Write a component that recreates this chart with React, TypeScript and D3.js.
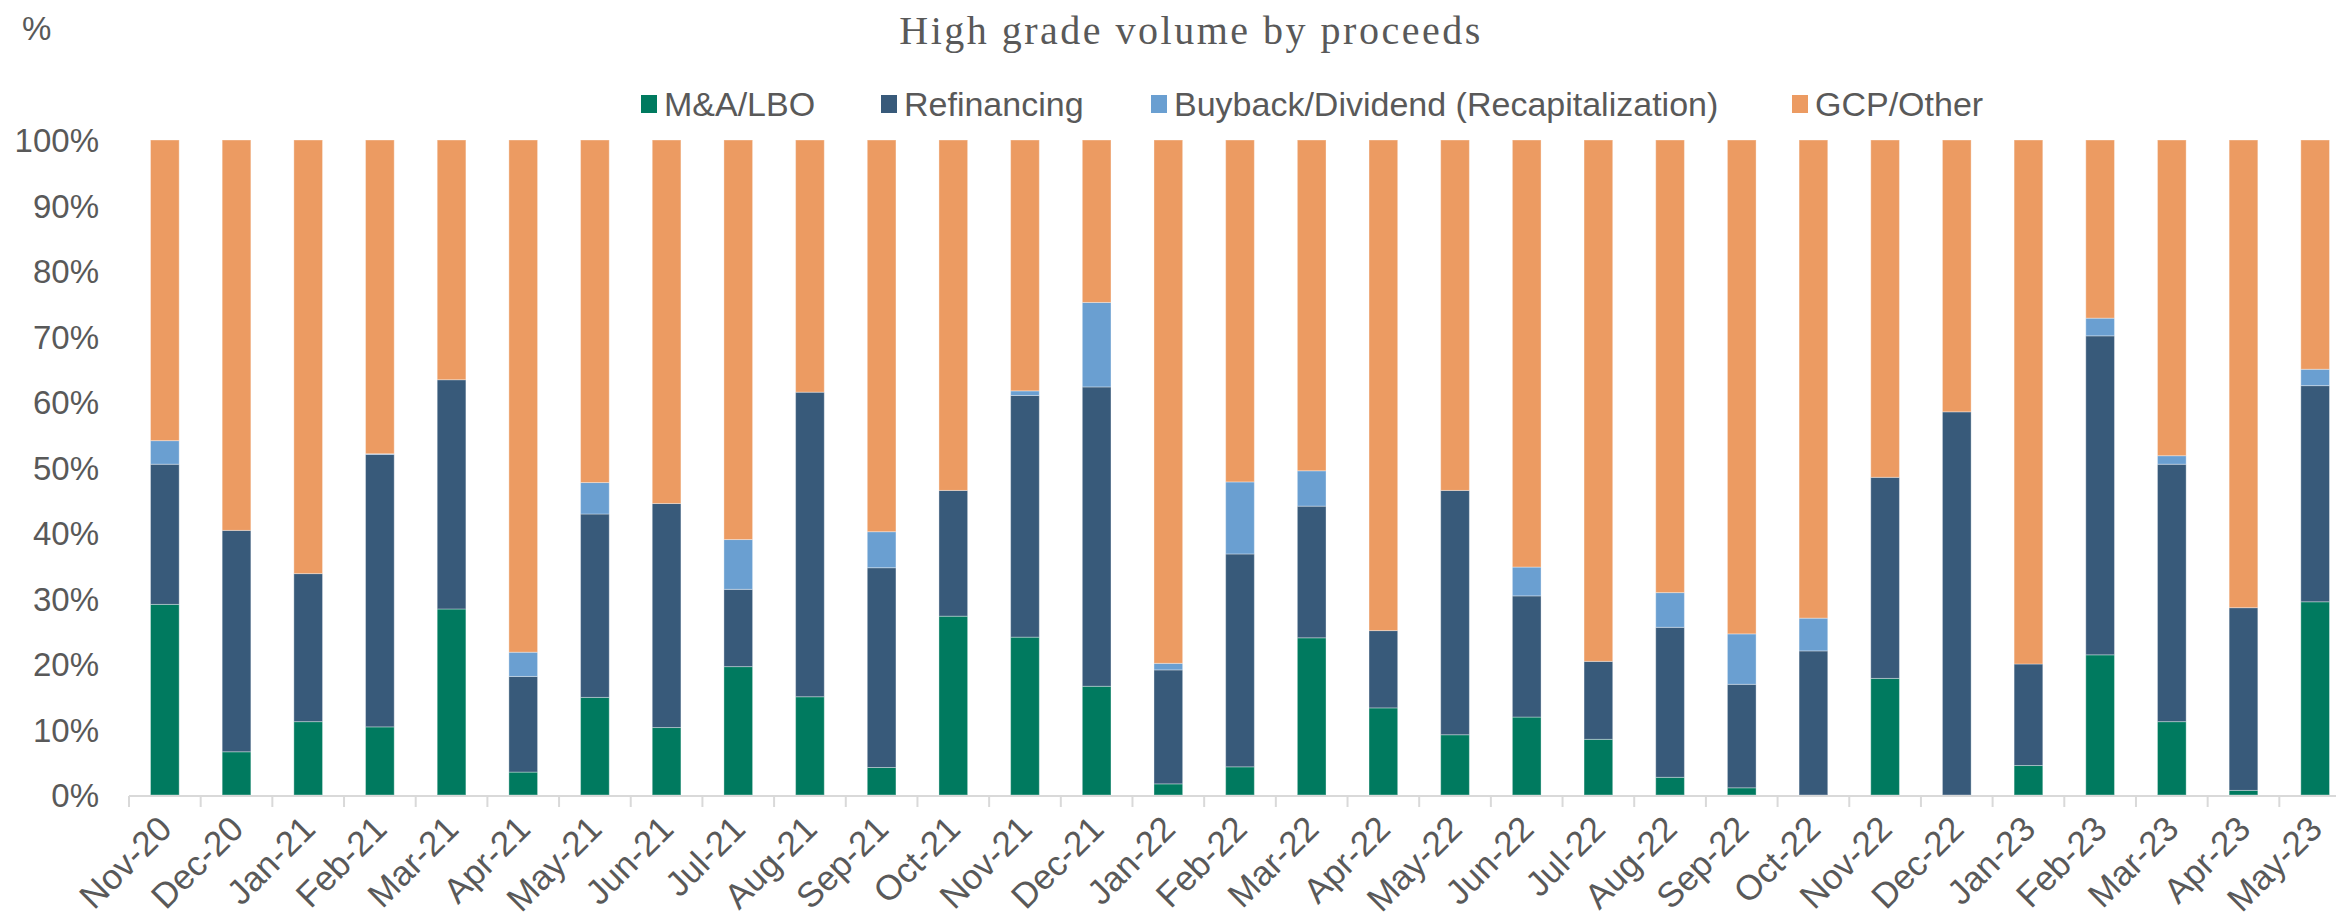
import React from 'react';
import * as d3 from 'd3';

const months = [
  'Nov-20', 'Dec-20', 'Jan-21', 'Feb-21', 'Mar-21', 'Apr-21', 'May-21', 'Jun-21',
  'Jul-21', 'Aug-21', 'Sep-21', 'Oct-21', 'Nov-21', 'Dec-21', 'Jan-22', 'Feb-22',
  'Mar-22', 'Apr-22', 'May-22', 'Jun-22', 'Jul-22', 'Aug-22', 'Sep-22', 'Oct-22',
  'Nov-22', 'Dec-22', 'Jan-23', 'Feb-23', 'Mar-23', 'Apr-23', 'May-23'
];

// % of high grade volume, per month
const maLbo = [
  29.1, 6.6, 11.2, 10.4, 28.4, 3.5, 14.9, 10.3, 19.6, 15.0, 4.2, 27.3, 24.1, 16.6, 1.7, 4.3,
  24.0, 13.3, 9.2, 11.9, 8.5, 2.7, 1.1, 0, 17.8, 0, 4.5, 21.4, 11.2, 0.7, 29.5
];
const refinancing = [
  21.4, 33.8, 22.6, 41.6, 35.0, 14.6, 28.0, 34.2, 11.8, 46.5, 30.5, 19.2, 36.9, 45.7, 17.4, 32.5,
  20.1, 11.8, 37.3, 18.5, 11.9, 22.9, 15.8, 22.0, 30.7, 58.5, 15.5, 48.7, 39.3, 27.9, 33.0
];
const buyback = [
  3.6, 0, 0, 0.1, 0, 3.7, 4.8, 0, 7.6, 0, 5.5, 0, 0.7, 12.9, 1.0, 11.0,
  5.4, 0, 0, 4.4, 0, 5.3, 7.7, 5.0, 0, 0, 0, 2.7, 1.3, 0, 2.5
];
const gcpOther = [
  45.9, 59.6, 66.2, 47.9, 36.6, 78.2, 52.3, 55.5, 61.0, 38.5, 59.8, 53.5, 38.3, 24.8, 79.9, 52.2,
  50.5, 74.9, 53.5, 65.2, 79.6, 69.1, 75.4, 73.0, 51.5, 41.5, 80.0, 27.2, 48.2, 71.4, 35.0
];

const seriesNames = ['M&A/LBO', 'Refinancing', 'Buyback/Dividend (Recapitalization)', 'GCP/Other'];
const seriesKeys = ['ma', 'refi', 'buy', 'gcp'];
const colors = ['#007a5f', '#385a7a', '#6a9fd1', '#ec9b62'];
const yTicks = [0, 10, 20, 30, 40, 50, 60, 70, 80, 90, 100];

const W = 2336;
const H = 920;
const textColor = '#595959';
const sans = '"Liberation Sans", Arial, sans-serif';

const App: React.FC = () => {
  const rows = months.map((m, i) => ({
    month: m,
    ma: maLbo[i],
    refi: refinancing[i],
    buy: buyback[i],
    gcp: gcpOther[i]
  }));

  const stack = d3.stack<any>().keys(seriesKeys);
  const layers = stack(rows);

  const x = d3.scaleBand<string>()
    .domain(months)
    .range([129, 2351])
    .paddingInner(0.6)
    .paddingOuter(0.3);
  const step = x.step();
  const y = d3.scaleLinear().domain([0, 100]).range([795, 140]);

  const legendX = [641, 881, 1151, 1792];

  return (
    <div style={{ position: 'absolute', left: 0, top: 0, width: W, height: H, overflow: 'hidden', background: '#fff' }}>
      <svg width={W} height={H} style={{ display: 'block' }}>
        <text x={22} y={40} fontFamily={sans} fontSize={33} fill={textColor}>%</text>
        <text x={1191} y={44} textAnchor="middle" fontFamily='"Liberation Serif", "Times New Roman", serif'
          fontSize={40} letterSpacing={2.5} fill={textColor}>High grade volume by proceeds</text>

        {seriesNames.map((name, i) => (
          <g key={name} transform={`translate(${legendX[i]},104)`}>
            <rect x={0} y={-9} width={16} height={18} fill={colors[i]} />
            <text x={23} y={12} fontFamily={sans} fontSize={34} fill={textColor}>{name}</text>
          </g>
        ))}

        {yTicks.map((t) => (
          <text key={t} x={99} y={y(t) + 12} textAnchor="end" fontFamily={sans} fontSize={33} fill={textColor}>
            {t}%
          </text>
        ))}

        {layers.map((layer, li) => (
          <g key={seriesKeys[li]} fill={colors[li]}>
            {layer.map((d, i) => {
              const h = y(d[0]) - y(d[1]);
              if (h <= 0) return null;
              return (
                <rect key={i} x={x(months[i])} y={y(d[1])} width={x.bandwidth()} height={h}
                  stroke="#ffffff" strokeOpacity={0.35} strokeWidth={1} />
              );
            })}
          </g>
        ))}

        <line x1={129} x2={2351} y1={796} y2={796} stroke="#d9d9d9" strokeWidth={2} />
        {d3.range(months.length + 1).map((i) => (
          <line key={i} x1={129 + i * step} x2={129 + i * step} y1={796} y2={807} stroke="#d9d9d9" strokeWidth={2} />
        ))}

        {months.map((m) => {
          const cx = (x(m) as number) + x.bandwidth() / 2 + 9;
          const cy = 831;
          return (
            <text key={m} x={cx} y={cy} textAnchor="end" transform={`rotate(-45,${cx},${cy})`}
              fontFamily={sans} fontSize={35} fill={textColor}>
              {m}
            </text>
          );
        })}
      </svg>
    </div>
  );
};

export default App;
